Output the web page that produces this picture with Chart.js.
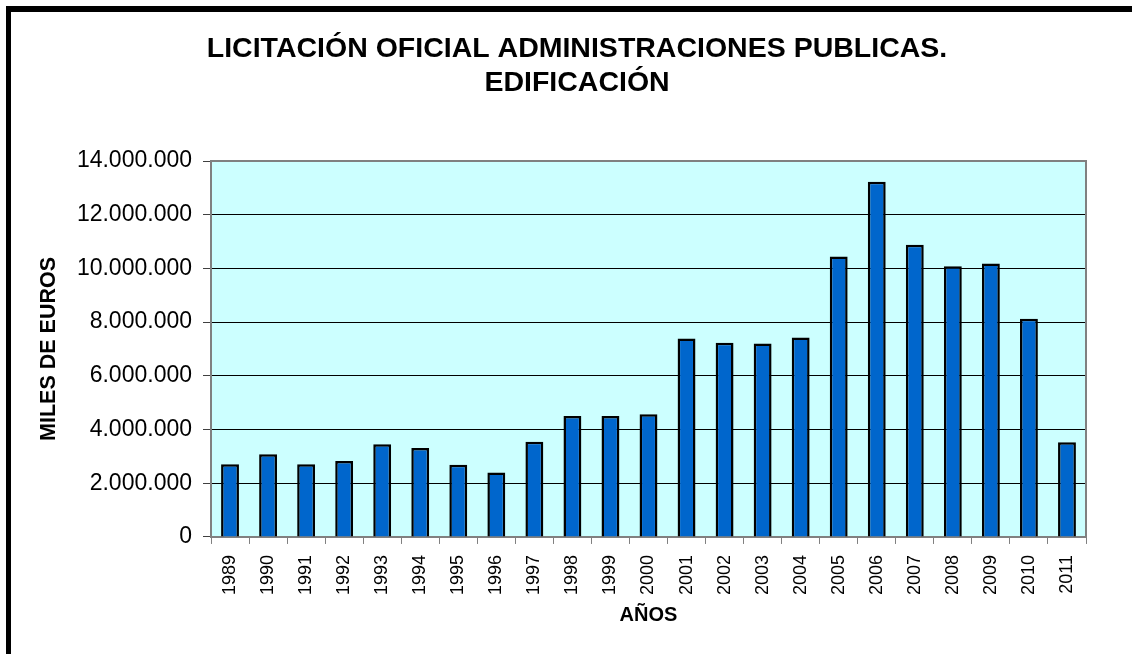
<!DOCTYPE html>
<html>
<head>
<meta charset="utf-8">
<script src="https://cdn.jsdelivr.net/npm/chart.js@4/dist/chart.umd.min.js"></script>
<style>
  html, body { margin: 0; padding: 0; background: #fff; overflow: hidden; }
  #wrap { width: 1132px; height: 654px; overflow: hidden; position: relative; }
  canvas { display: block; }
</style>
</head>
<body>
<div id="wrap"><canvas id="licChart" width="1198" height="654"></canvas></div>
<script>
// Años y licitación (miles de euros)
const years = ['1989', '1990', '1991', '1992', '1993', '1994', '1995', '1996', '1997', '1998', '1999', '2000',
               '2001', '2002', '2003', '2004', '2005', '2006', '2007', '2008', '2009', '2010', '2011'];
const licitacion = [2710000, 3080000, 2710000, 2830000, 3450000, 3310000, 2690000, 2400000, 3550000, 4500000, 4500000, 4570000,
                    7390000, 7230000, 7200000, 7430000, 10440000, 13230000, 10880000, 10080000, 10180000, 8130000, 3530000];
const titleLines = ['LICITACIÓN OFICIAL ADMINISTRACIONES PUBLICAS.', 'EDIFICACIÓN'];
const yTitle = 'MILES DE EUROS';
const xTitle = 'AÑOS';
const yMax = 14000000;
const yStep = 2000000;

const FONT = "'Liberation Sans', Arial, sans-serif";
const PAD_LEFT = 68;

// puntos de miles: 14000000 -> 14.000.000
function fmtMiles(v) {
    return String(Math.round(v)).replace(/\B(?=(\d{3})+(?!\d))/g, '.');
}

// fondo del área de trazado, marco y borde negro exterior
const plotFrame = {
    id: 'plotFrame',
    beforeDraw(chart) {
        const { ctx, chartArea: a } = chart;
        ctx.save();
        ctx.fillStyle = '#CCFFFF';
        ctx.fillRect(a.left, a.top, a.right - a.left, a.bottom - a.top);
        ctx.restore();
    },
    afterDraw(chart) {
        const { ctx, chartArea: a } = chart;
        ctx.save();
        ctx.strokeStyle = '#808080';
        ctx.lineWidth = 2;
        ctx.beginPath();
        ctx.moveTo(a.left, a.top);
        ctx.lineTo(a.right, a.top);
        ctx.lineTo(a.right, a.bottom);
        ctx.stroke();
        // marco negro del gráfico
        ctx.fillStyle = '#000';
        ctx.fillRect(6, 6, 5, chart.height);
        ctx.fillRect(6, 6, chart.width, 6);
        ctx.restore();
    }
};

const ctx = document.getElementById('licChart').getContext('2d');
const chart = new Chart(ctx, {
    type: 'bar',
    data: {
        labels: years,
        datasets: [{
            data: licitacion,
            backgroundColor: '#0066CC',
            borderColor: '#000000',
            borderWidth: 2.5,
            borderSkipped: 'bottom',
            categoryPercentage: 1,
            barPercentage: 0.47
        }]
    },
    options: {
        responsive: false,
        animation: false,
        layout: {
            padding: { left: PAD_LEFT, right: 112, top: 0, bottom: 24 }
        },
        plugins: {
            legend: { display: false },
            tooltip: { enabled: false },
            title: {
                display: true,
                text: titleLines,
                color: '#000',
                font: { family: FONT, size: 28.5, weight: 'bold', lineHeight: 34 / 28.5 },
                padding: { top: 32, bottom: 61 }
            }
        },
        scales: {
            x: {
                grid: {
                    drawOnChartArea: false,
                    drawTicks: true,
                    tickLength: 7,
                    tickColor: '#808080',
                    tickWidth: 1
                },
                border: { color: '#808080', width: 2 },
                ticks: {
                    color: '#000',
                    font: { family: FONT, size: 18 },
                    minRotation: 90,
                    maxRotation: 90,
                    padding: 11,
                    autoSkip: false
                },
                title: {
                    display: true,
                    text: xTitle,
                    color: '#000',
                    font: { family: FONT, size: 20, weight: 'bold' },
                    padding: { top: -3, bottom: 3 }
                }
            },
            y: {
                min: 0,
                max: yMax,
                grid: {
                    color: '#000000',
                    lineWidth: 1,
                    tickLength: 8,
                    tickColor: '#404040'
                },
                border: { color: '#808080', width: 2 },
                ticks: {
                    stepSize: yStep,
                    color: '#000',
                    font: { family: FONT, size: 23 },
                    padding: 11,
                    callback: (v) => fmtMiles(v)
                },
                title: {
                    display: true,
                    text: yTitle,
                    color: '#000',
                    font: { family: FONT, size: 21.5, weight: 'bold' },
                    padding: { top: 12 - (PAD_LEFT - 24), bottom: 0 }
                },
                afterFit(scale) {
                    scale.width = 211 - PAD_LEFT;
                }
            }
        }
    },
    plugins: [plotFrame]
});
</script>
</body>
</html>
